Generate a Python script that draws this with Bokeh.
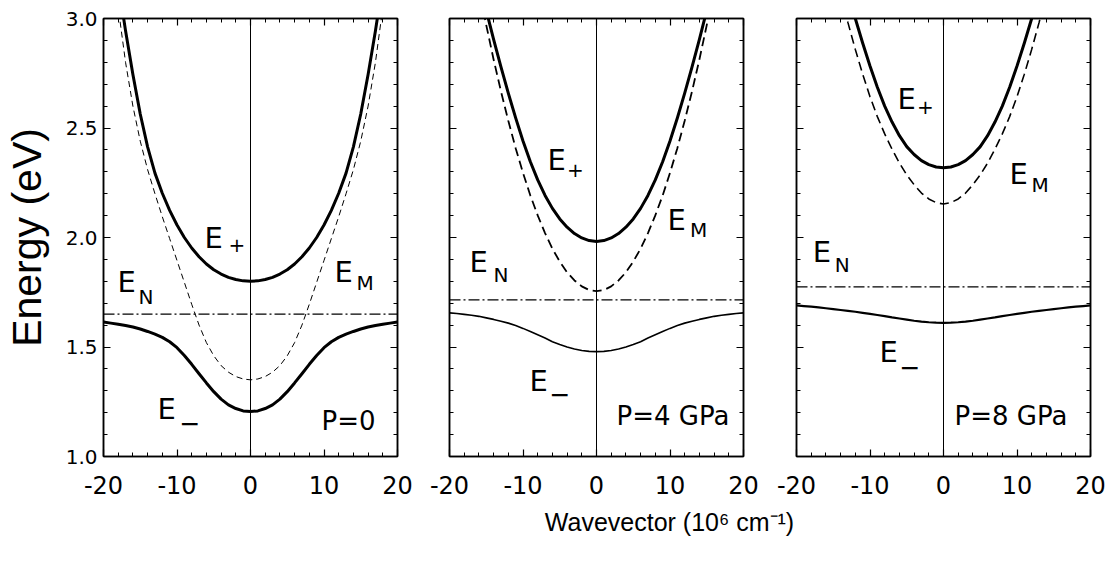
from bokeh.plotting import figure
from bokeh.layouts import column, row
from bokeh.models import Range1d, LinearAxis, FixedTicker, Span, PrintfTickFormatter
from bokeh.embed import file_html
from bokeh.resources import INLINE
from bokeh.core.properties import value

# ---------------- data ----------------
k = [-20, -19, -18, -17, -16, -15, -14, -13, -12, -11, -10, -9, -8, -7, -6, -5, -4, -3, -2, -1,
     0, 1, 2, 3, 4, 5, 6, 7, 8, 9, 10, 11, 12, 13, 14, 15, 16, 17, 18, 19, 20]

panel_names = ["P=0", "P=4 GPa", "P=8 GPa"]
e_n = [1.65, 1.715, 1.775]

e_plus_p0 = [3.634, 3.394, 3.164, 2.944, 2.744, 2.564, 2.414, 2.294, 2.202, 2.124, 2.057,
             2.000, 1.952, 1.912, 1.879, 1.853, 1.833, 1.818, 1.808, 1.802, 1.80,
             1.802, 1.808, 1.818, 1.833, 1.853, 1.879, 1.912, 1.952, 2.000, 2.057,
             2.124, 2.202, 2.294, 2.414, 2.564, 2.744, 2.944, 3.164, 3.394, 3.634]
e_minus_p0 = [1.614, 1.609, 1.604, 1.598, 1.591, 1.582, 1.571, 1.559, 1.544, 1.524, 1.497,
              1.461, 1.421, 1.378, 1.336, 1.296, 1.262, 1.236, 1.219, 1.208, 1.205,
              1.208, 1.219, 1.236, 1.262, 1.296, 1.336, 1.378, 1.421, 1.461, 1.497,
              1.524, 1.544, 1.559, 1.571, 1.582, 1.591, 1.598, 1.604, 1.609, 1.614]
e_m_p0 = [3.62, 3.34, 3.05, 2.80, 2.60, 2.44, 2.31, 2.20, 2.095, 1.995, 1.895,
          1.795, 1.695, 1.60, 1.52, 1.46, 1.415, 1.385, 1.365, 1.354, 1.35,
          1.354, 1.365, 1.385, 1.415, 1.46, 1.52, 1.60, 1.695, 1.795, 1.895,
          1.995, 2.095, 2.20, 2.31, 2.44, 2.60, 2.80, 3.05, 3.34, 3.62]

e_plus_p4 = [3.97, 3.75, 3.54, 3.34, 3.175, 3.037, 2.905, 2.779, 2.659, 2.546, 2.441,
             2.346, 2.263, 2.192, 2.133, 2.085, 2.047, 2.018, 1.998, 1.986, 1.982,
             1.986, 1.998, 2.018, 2.047, 2.085, 2.133, 2.192, 2.263, 2.346, 2.441,
             2.546, 2.659, 2.779, 2.905, 3.037, 3.175, 3.34, 3.54, 3.75, 3.97]
e_minus_p4 = [1.656, 1.653, 1.649, 1.645, 1.640, 1.633, 1.626, 1.618, 1.609, 1.598, 1.585,
              1.571, 1.556, 1.541, 1.524, 1.511, 1.500, 1.491, 1.484, 1.480, 1.479,
              1.480, 1.484, 1.491, 1.500, 1.511, 1.524, 1.541, 1.556, 1.571, 1.585,
              1.598, 1.609, 1.618, 1.626, 1.633, 1.640, 1.645, 1.649, 1.653, 1.656]
e_m_p4 = [3.915, 3.704, 3.505, 3.316, 3.137, 2.970, 2.813, 2.668, 2.533, 2.408, 2.295,
          2.192, 2.101, 2.020, 1.949, 1.890, 1.841, 1.804, 1.777, 1.760, 1.755,
          1.760, 1.777, 1.804, 1.841, 1.890, 1.949, 2.020, 2.101, 2.192, 2.295,
          2.408, 2.533, 2.668, 2.813, 2.970, 3.137, 3.316, 3.505, 3.704, 3.915]

e_plus_p8 = [4.34, 4.13, 3.93, 3.74, 3.57, 3.41, 3.26, 3.125, 3.0, 2.888, 2.783,
             2.686, 2.600, 2.527, 2.465, 2.415, 2.379, 2.351, 2.333, 2.322, 2.318,
             2.322, 2.333, 2.351, 2.379, 2.415, 2.465, 2.527, 2.600, 2.686, 2.783,
             2.888, 3.0, 3.125, 3.26, 3.41, 3.57, 3.74, 3.93, 4.13, 4.34]
e_minus_p8 = [1.690, 1.687, 1.684, 1.681, 1.677, 1.673, 1.669, 1.665, 1.661, 1.656, 1.651,
              1.646, 1.641, 1.635, 1.630, 1.625, 1.620, 1.616, 1.613, 1.611, 1.610,
              1.611, 1.613, 1.616, 1.620, 1.625, 1.630, 1.635, 1.641, 1.646, 1.651,
              1.656, 1.661, 1.665, 1.669, 1.673, 1.677, 1.681, 1.684, 1.687, 1.690]
e_m_p8 = [4.113, 3.922, 3.741, 3.569, 3.407, 3.255, 3.113, 2.981, 2.859, 2.746, 2.643,
          2.552, 2.473, 2.403, 2.340, 2.286, 2.241, 2.203, 2.176, 2.159, 2.153,
          2.159, 2.176, 2.203, 2.241, 2.286, 2.340, 2.403, 2.473, 2.552, 2.643,
          2.746, 2.859, 2.981, 3.113, 3.255, 3.407, 3.569, 3.741, 3.922, 4.113]

x_ticks = [-20, -10, 0, 10, 20]
x_minor = [-20, -18, -16, -14, -12, -10, -8, -6, -4, -2, 0, 2, 4, 6, 8, 10, 12, 14, 16, 18, 20]
y_ticks = [1.0, 1.5, 2.0, 2.5, 3.0]
y_minor = [1.0, 1.1, 1.2, 1.3, 1.4, 1.5, 1.6, 1.7, 1.8, 1.9, 2.0,
           2.1, 2.2, 2.3, 2.4, 2.5, 2.6, 2.7, 2.8, 2.9, 3.0]

y_title = "Energy (eV)"
x_title = "Wavevector (10\u2076 cm\u207b\u00b9)"

# ---------------- styling / layout ----------------
INNER_FONT = "DejaVu Sans"
TITLE_FONT = "Liberation Sans"

series = [
    (e_plus_p0, e_minus_p0, e_m_p0),
    (e_plus_p4, e_minus_p4, e_m_p4),
    (e_plus_p8, e_minus_p8, e_m_p8),
]

styles = [
    dict(minus_w=3.0, m_w=1.0, m_dash="6 4"),
    dict(minus_w=1.6, m_w=1.8, m_dash="9 5"),
    dict(minus_w=2.2, m_w=1.6, m_dash="9 5"),
]

# label anchor positions in data coords
label_pos = [
    {"Ep": (-6.26, 2.0), "p": (-3.0, 1.964), "EN": (-18.1, 1.795), "N": (-15.24, 1.73),
     "EM": (11.43, 1.842), "M": (14.42, 1.79), "Em": (-12.65, 1.218), "m": (-9.66, 1.151),
     "P": (9.66, 1.16)},
    {"Ep": (-6.67, 2.352), "p": (-4.0, 2.31), "EN": (-17.28, 1.888), "N": (-14.0, 1.828),
     "EM": (9.66, 2.078), "M": (12.72, 2.032), "Em": (-9.1, 1.347), "m": (-6.39, 1.286),
     "P": (2.72, 1.183)},
    {"Ep": (-6.26, 2.634), "p": (-3.6, 2.598), "EN": (-17.8, 1.933), "N": (-14.8, 1.874),
     "EM": (8.98, 2.291), "M": (11.97, 2.239), "Em": (-8.7, 1.476), "m": (-5.99, 1.408),
     "P": (1.5, 1.183)},
]

borders = [(103, 26), (26, 26), (27, 16)]
FRAME_W = 294
FRAME_H = 438
TOP = 18
BOTTOM = 50


def tick_axis(axis, ticks, minor, show_labels):
    axis.ticker = FixedTicker(ticks=ticks, minor_ticks=minor)
    axis.major_tick_in = 7
    axis.major_tick_out = 0
    axis.minor_tick_in = 4
    axis.minor_tick_out = 0
    axis.axis_line_width = 1.5
    axis.major_tick_line_width = 1.2
    axis.minor_tick_line_width = 1
    axis.axis_line_color = "black"
    axis.major_tick_line_color = "black"
    axis.minor_tick_line_color = "black"
    if not show_labels:
        axis.major_label_text_color = None
        axis.major_label_standoff = 0


figs = []
for i in range(3):
    bl, br = borders[i]
    p = figure(width=bl + FRAME_W + br, height=TOP + FRAME_H + BOTTOM,
               x_range=Range1d(-20, 20), y_range=Range1d(1.0, 3.0),
               toolbar_location=None, output_backend="svg",
               min_border_left=bl, min_border_right=br,
               min_border_top=TOP, min_border_bottom=BOTTOM)
    p.grid.visible = False
    p.outline_line_color = "black"
    p.outline_line_width = 1.5
    p.background_fill_color = "white"
    p.border_fill_color = "white"

    xa = p.xaxis[0]
    tick_axis(xa, x_ticks, x_minor, True)
    xa.formatter = PrintfTickFormatter(format="%d")
    xa.major_label_text_font = INNER_FONT
    xa.major_label_text_font_size = "24px"
    xa.major_label_text_color = "black"
    xa.major_label_standoff = 19

    ya = p.yaxis[0]
    tick_axis(ya, y_ticks, y_minor, i == 0)
    if i == 0:
        ya.formatter = PrintfTickFormatter(format="%.1f")
        ya.major_label_text_font = INNER_FONT
        ya.major_label_text_font_size = "20px"
        ya.major_label_text_color = "black"
        ya.major_label_standoff = 6
        ya.axis_label = y_title
        ya.axis_label_text_font = TITLE_FONT
        ya.axis_label_text_font_size = "41px"
        ya.axis_label_text_font_style = "normal"
        ya.axis_label_text_color = "black"
        ya.axis_label_standoff = 13

    top = LinearAxis()
    tick_axis(top, x_ticks, x_minor, False)
    p.add_layout(top, "above")
    right = LinearAxis()
    tick_axis(right, y_ticks, y_minor, False)
    p.add_layout(right, "right")

    e_plus, e_minus, e_m = series[i]
    st = styles[i]

    p.add_layout(Span(location=0, dimension="height", line_color="black", line_width=1))
    p.add_layout(Span(location=e_n[i], dimension="width", line_color="black",
                      line_width=1.3, line_dash="11 3 2 3"))

    p.line(k, e_m, line_color="black", line_width=st["m_w"], line_dash=st["m_dash"])
    p.line(k, e_plus, line_color="black", line_width=3, line_join="round")
    p.line(k, e_minus, line_color="black", line_width=st["minus_w"], line_join="round")

    lp = label_pos[i]
    main_keys = ["Ep", "EN", "EM", "Em"]
    p.text(x=[lp[kk][0] for kk in main_keys], y=[lp[kk][1] for kk in main_keys],
           text=["E", "E", "E", "E"], text_font=value(INNER_FONT), text_font_size="29px",
           text_align="left", text_baseline="alphabetic", text_color="black")
    sub_keys = ["p", "N", "M"]
    p.text(x=[lp[kk][0] for kk in sub_keys], y=[lp[kk][1] for kk in sub_keys],
           text=["+", "N", "M"], text_font=value(INNER_FONT), text_font_size="20px",
           text_align="left", text_baseline="alphabetic", text_color="black")
    p.text(x=[lp["m"][0]], y=[lp["m"][1]], text=["\u2212"],
           text_font=value(INNER_FONT), text_font_size="25px",
           text_align="left", text_baseline="alphabetic", text_color="black")
    p.text(x=[lp["P"][0]], y=[lp["P"][1]], text=[panel_names[i]],
           text_font=value(INNER_FONT), text_font_size="26px",
           text_align="left", text_baseline="alphabetic", text_color="black")
    figs.append(p)

total_w = sum(b[0] + FRAME_W + b[1] for b in borders)
TH = 50
t = figure(width=total_w, height=TH, x_range=Range1d(0, total_w), y_range=Range1d(0, TH),
           toolbar_location=None, output_backend="svg", min_border=0,
           x_axis_type=None, y_axis_type=None)
t.grid.visible = False
t.outline_line_color = None
t.text(x=[669], y=[34.6], text=[x_title], text_font=value(TITLE_FONT), text_font_size="25px",
       text_align="center", text_baseline="alphabetic", text_color="black")

layout = column(row(*figs, spacing=0), t, spacing=0)
open("out.html", "w").write(file_html(layout, INLINE))
